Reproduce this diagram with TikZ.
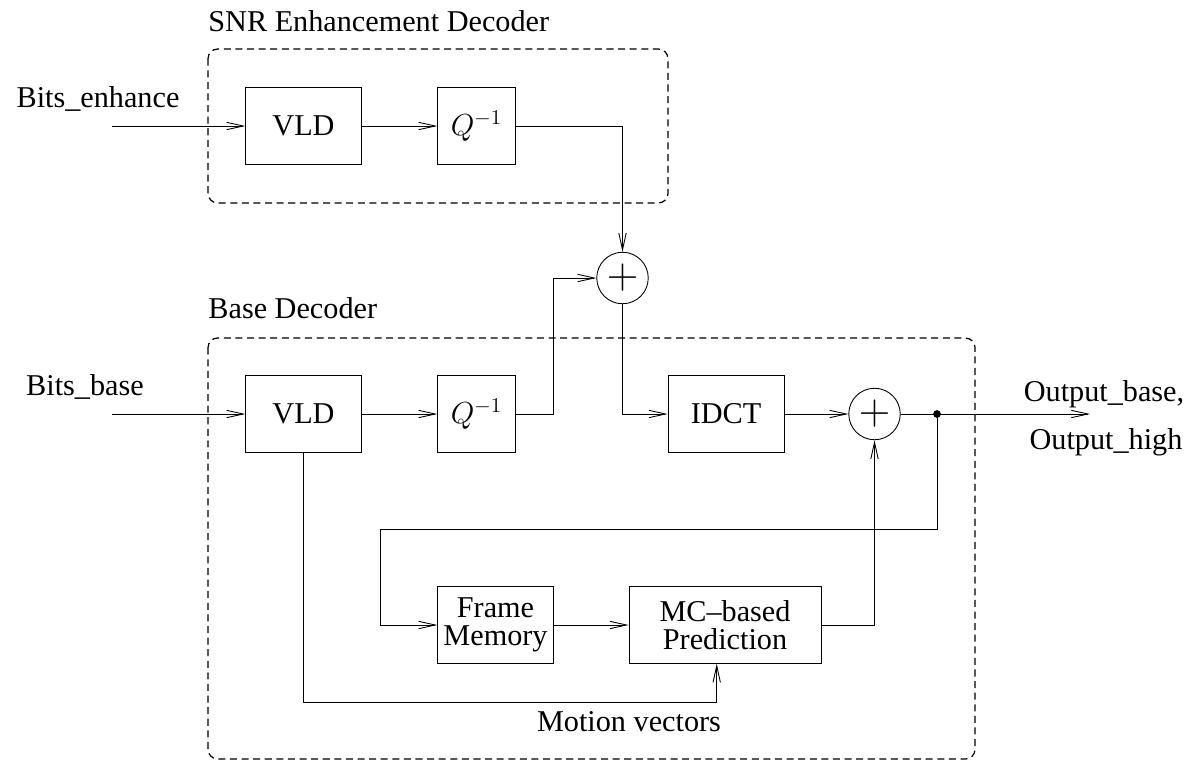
\documentclass[tikz,border=0pt]{standalone}
\usepackage{fontspec}
\setmainfont{Liberation Serif}
\usetikzlibrary{arrows.meta}

\begin{document}
\begin{tikzpicture}[x=0.02cm,y=-0.02cm,line width=0.5pt]
\tikzstyle{every node}+=[inner sep=0pt,font=\fontsize{17.2}{15.7}\selectfont]
\tikzstyle{block}=[draw,minimum height=1.53cm,align=center]
\tikzstyle{adder}=[draw,circle,minimum size=1.03cm,font=\fontsize{24}{24}\selectfont]
\tikzstyle{group}=[draw,line width=0.7pt,dash pattern=on 4pt off 2.6pt,rounded corners=5.5pt]
\tikzstyle{flow}=[-{Straight Barb[length=9.5pt,width=4.2pt]}]
\useasboundingbox (0,0) rectangle (1192,761);
\draw [group] (208,49) rectangle (668,203);
\draw [group] (208,338) rectangle (975,759);
\node [anchor=base west] (snrlabel) at (208,31) {SNR Enhancement Decoder};
\node [anchor=base west] (baselabel) at (208,318) {Base Decoder};
\node [anchor=base] (bitsenh) at (98,107) {Bits\_enhance};
\coordinate (enhin) at (112,126);
\node [block,minimum width=2.31cm] (vldenh) at (303.5,126) {VLD};
\node [block,minimum width=1.55cm] (qenh) at (476.5,126) {$Q^{-1}$};
\node [adder] (sumenh) at (622.5,278) {$+$};
\node [anchor=base] (bitsbase) at (85,395) {Bits\_base};
\coordinate (basein) at (112,414);
\node [block,minimum width=2.31cm] (vldbase) at (303.5,414) {VLD};
\node [block,minimum width=1.55cm] (qbase) at (476.5,414) {$Q^{-1}$};
\node [block,minimum width=2.32cm] (idct) at (726,414) {IDCT};
\node [adder] (sumbase) at (874.5,414) {$+$};
\coordinate (branch) at (937,414);
\coordinate (outend) at (1090,414);
\node [anchor=base] (outbase) at (1104,401) {Output\_base,};
\node [anchor=base] (outhigh) at (1106,449) {Output\_high};
\coordinate (loopdown) at (937,529.5);
\coordinate (loopleft) at (380.7,529.5);
\node [block,minimum width=2.31cm] (frame) at (495.5,625) {Frame\\Memory};
\node [block,minimum width=3.84cm] (mcpred) at (725,625) {MC--based\\Prediction};
\coordinate (mvin) at (716.7,702);
\node [anchor=base] (motion) at (629,731) {Motion vectors};
\draw [flow] (enhin) -- (vldenh);
\draw [flow] (vldenh) -- (qenh);
\draw [flow] (qenh) -| (sumenh);
\draw [flow] (basein) -- (vldbase);
\draw [flow] (vldbase) -- (qbase);
\draw [flow] (qbase.east) -- ++(38,0) |- (sumenh.west);
\draw [flow] (sumenh) |- (idct);
\draw [flow] (idct) -- (sumbase);
\draw (sumbase) -- (branch);
\draw [flow] (branch) -- (outend);
\fill (branch) circle (2.2pt);
\draw [flow] (branch) -- (loopdown) -- (loopleft) |- (frame);
\draw [flow] (frame) -- (mcpred);
\draw [flow] (mcpred) -| (sumbase);
\draw [flow] (vldbase) |- (mvin) -- (mvin |- mcpred.south);
\end{tikzpicture}
\end{document}
